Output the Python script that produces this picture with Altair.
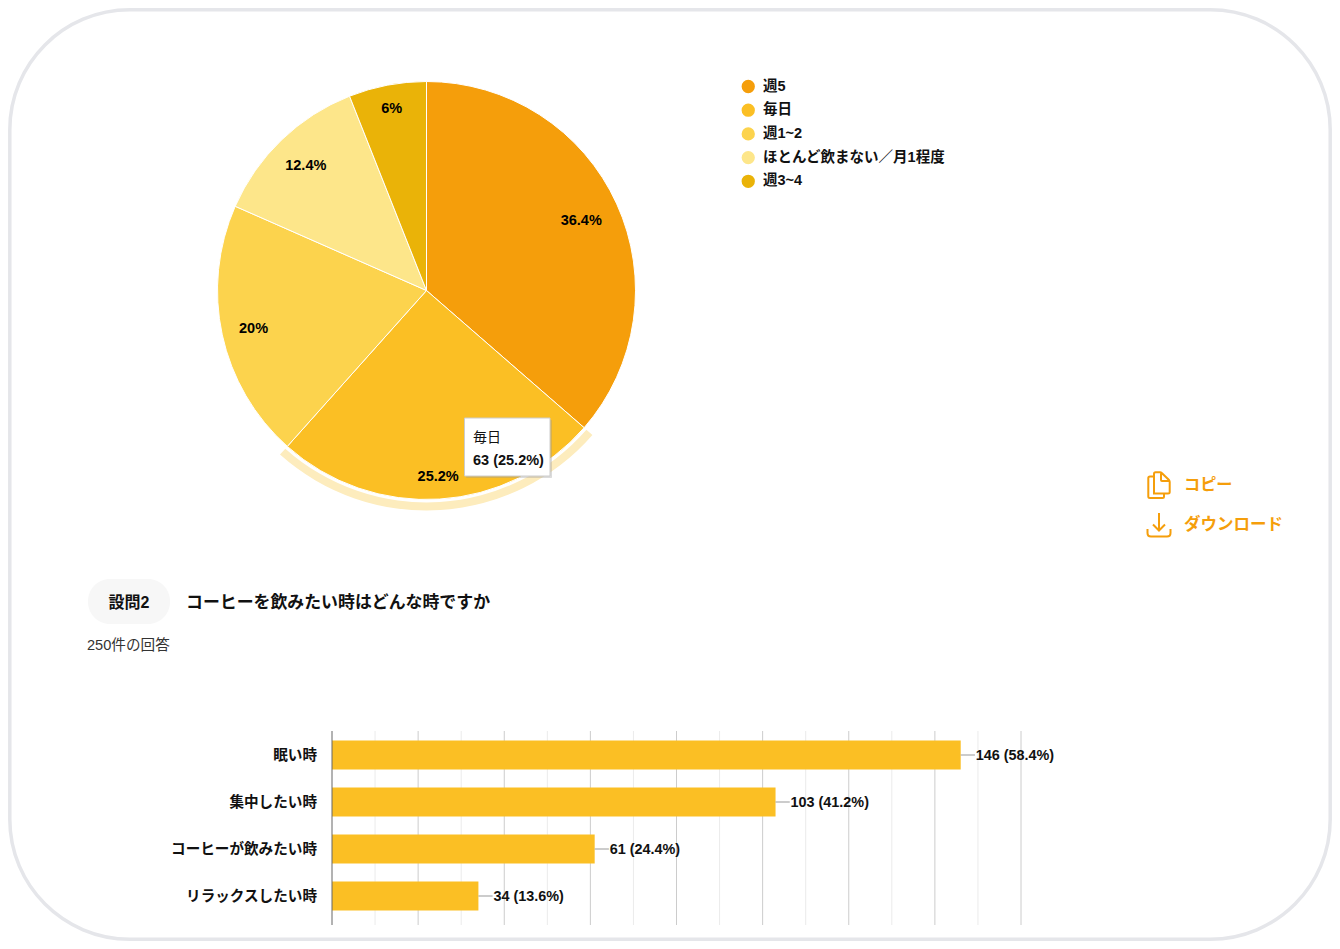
import altair as alt
import pandas as pd

FONT = "Liberation Sans, Noto Sans CJK JP, sans-serif"
INK = "#111111"
ORANGE = "#f59e0b"

# --- data -------------------------------------------------------------
pie_categories = ["週5", "毎日", "週1~2", "ほとんど飲まない／月1程度", "週3~4"]
pie_counts = [91, 63, 50, 31, 15]
pie_labels = ["36.4%", "25.2%", "20%", "12.4%", "6%"]
pie_colors = ["#f59e0b", "#fbbf24", "#fcd34d", "#fde68a", "#eab308"]

bar_categories = ["眠い時", "集中したい時", "コーヒーが飲みたい時", "リラックスしたい時"]
bar_counts = [146, 103, 61, 34]
bar_labels = ["146 (58.4%)", "103 (41.2%)", "61 (24.4%)", "34 (13.6%)"]
major_ticks = [20, 40, 60, 80, 100, 120, 140, 160]
minor_ticks = [10, 30, 50, 70, 90, 110, 130, 150]
axis_ticks = [0]

pie_df = pd.DataFrame({"cat": pie_categories, "n": pie_counts, "lbl": pie_labels,
                       "i": list(range(len(pie_counts)))})
bar_df = pd.DataFrame({"cat": bar_categories, "n": bar_counts, "lbl": bar_labels})
bar_df["lead"] = bar_df["n"] + 3.3
one = pd.DataFrame({"a": [0]})


def px(v):  # page pixel -> chart pixel (page has an 8px margin)
    return v - 8


def text(s, x, y, size=14, weight="normal", color=INK, align="left"):
    return alt.Chart(pd.DataFrame({"t": [s]})).mark_text(
        font=FONT, fontSize=size, fontWeight=weight, color=color, align=align, baseline="middle"
    ).encode(text="t:N", x=alt.value(px(x)), y=alt.value(px(y)))


def box(x0, x1, y0, y1, **kw):
    return alt.Chart(one).mark_rect(**kw).encode(
        x=alt.value(px(x0)), x2=alt.value(px(x1)), y=alt.value(px(y0)), y2=alt.value(px(y1))
    )


# --- card -------------------------------------------------------------
card = box(9.8, 1330.2, 9.8, 939.2, cornerRadius=120, fill="white", stroke="#e5e6ea", strokeWidth=3.5)

# --- pie --------------------------------------------------------------
CX, CY, R = px(426.5), px(290.5), 209
theta = alt.Theta("n:Q", stack=True)
order = alt.Order("i:Q")
color_scale = alt.Scale(domain=pie_categories, range=pie_colors)

slices = alt.Chart(pie_df).mark_arc(outerRadius=R, stroke="white", strokeWidth=1).encode(
    theta=theta, order=order,
    x=alt.value(CX), y=alt.value(CY),
    color=alt.Color("cat:N", scale=color_scale, legend=alt.Legend(
        orient="none", legendX=px(741), legendY=px(78.5), title=None,
        symbolType="circle", symbolSize=177, symbolStrokeWidth=0,
        labelFont=FONT, labelFontSize=14.5, labelFontWeight="bold", labelColor=INK,
        labelLimit=400, labelOffset=7.5, rowPadding=7.7, clipHeight=16, padding=0)),
)
ring = alt.Chart(pie_df).mark_arc(innerRadius=R + 3, outerRadius=R + 11).encode(
    theta=theta, order=order,
    x=alt.value(CX), y=alt.value(CY),
    fill=alt.condition("datum.cat == '毎日'", alt.value("#fdecbd"), alt.value("transparent")),
)


def slice_labels(test, radius):
    return alt.Chart(pie_df).mark_text(
        radius=radius, font=FONT, fontSize=14.5, fontWeight="bold", color="#000000", dy=1
    ).encode(
        theta=theta, order=order,
        x=alt.value(CX), y=alt.value(CY),
        text=alt.condition(test, alt.Text("lbl:N"), alt.value("")),
    )


labels_far = slice_labels("datum.i == 1 || datum.i == 4", 186)
labels_mid = slice_labels("datum.i == 2", 177)
labels_near = slice_labels("datum.i == 0", 170)
labels_low = slice_labels("datum.i == 3", 174)

# --- tooltip ----------------------------------------------------------
tip_shadow = box(466, 552, 420, 478, fill="#999999", opacity=0.35, cornerRadius=1)
tip = box(464.5, 550, 418, 476, fill="white", stroke="#cccccc", strokeWidth=1)
tip_a = text("毎日", 473, 438, 14, "normal")
tip_b = text("63 (25.2%)", 473, 461, 14.5, "bold")

# --- icons / actions --------------------------------------------------
copy_icon = alt.Chart(one).mark_point(
    filled=False, stroke=ORANGE, strokeWidth=2, size=40000, opacity=1,
    shape=("M-0.035,-0.128 L0.01,-0.128 Q0.02,-0.128 0.03,-0.118 L0.10,-0.05 Q0.107,-0.04 0.107,-0.03 "
           "L0.107,0.07 Q0.107,0.085 0.09,0.085 L0.05,0.085 "
           "M-0.035,-0.128 Q-0.05,-0.128 -0.05,-0.11 L-0.05,0.085 L0.05,0.085 "
           "M-0.05,-0.085 L-0.09,-0.085 Q-0.107,-0.085 -0.107,-0.07 L-0.107,0.115 Q-0.107,0.13 -0.09,0.13 "
           "L0.035,0.13 Q0.05,0.13 0.05,0.115 L0.05,0.085 "
           "M0.02,-0.125 L0.02,-0.05 Q0.02,-0.04 0.03,-0.04 L0.105,-0.04")
).encode(x=alt.value(px(1159)), y=alt.value(px(485)))
download_icon = alt.Chart(one).mark_point(
    filled=False, stroke=ORANGE, strokeWidth=2, size=40000, opacity=1,
    shape=("M0,-0.12 L0,0.055 M-0.06,-0.005 L0,0.055 L0.06,-0.005 "
           "M-0.115,0.04 L-0.115,0.08 Q-0.115,0.115 -0.08,0.115 L0.08,0.115 Q0.115,0.115 0.115,0.08 L0.115,0.04")
).encode(x=alt.value(px(1159)), y=alt.value(px(525)))
copy_text = text("コピー", 1184, 485, 16.2, "bold", ORANGE)
download_text = text("ダウンロード", 1184, 525, 16.5, "bold", ORANGE)

# --- question header --------------------------------------------------
pill = box(88, 170, 579, 624, fill="#f7f7f7", cornerRadius=22)
pill_text = text("設問2", 129, 603, 16, "bold", INK, "center")
question = text("コーヒーを飲みたい時はどんな時ですか", 186, 603, 16.9, "bold")
answers = text("250件の回答", 87, 646, 14.6, "normal", "#333333")

# --- bars -------------------------------------------------------------
x_scale = alt.Scale(domain=[0, 160], range=[px(332), px(1021)])
y_scale = alt.Scale(domain=bar_categories, range=[px(731.5), px(919.5)], paddingInner=0.38, paddingOuter=0.19)
X = alt.X("n:Q", scale=x_scale, axis=None)
Y = alt.Y("cat:N", scale=y_scale, axis=None)


def grid(ticks, color):
    return alt.Chart(pd.DataFrame({"t": ticks})).mark_rule(color=color, strokeWidth=1).encode(
        x=alt.X("t:Q", scale=x_scale, axis=None), y=alt.value(px(731)), y2=alt.value(px(925))
    )


grid_minor = grid(minor_ticks, "#ebebeb")
grid_major = grid(major_ticks, "#cccccc")
baseline = grid(axis_ticks, "#666666")
bars = alt.Chart(bar_df).mark_bar(color="#fbbf24", orient="horizontal").encode(x=X, y=Y)
leaders = alt.Chart(bar_df).mark_rule(color="#999999", strokeWidth=1).encode(x=X, x2="lead:Q", y=Y)
value_text = alt.Chart(bar_df).mark_text(
    font=FONT, fontSize=14.4, fontWeight="bold", color=INK, align="left", baseline="middle", dx=15, dy=1
).encode(x=X, y=Y, text="lbl:N")
cat_text = alt.Chart(bar_df).mark_text(
    font=FONT, fontSize=14.6, fontWeight="bold", color=INK, align="right", baseline="middle", dy=1
).encode(x=alt.value(px(317)), y=Y, text="cat:N")

chart = alt.layer(
    card, ring, slices, labels_far, labels_mid, labels_near, labels_low,
    tip_shadow, tip, tip_a, tip_b,
    copy_icon, download_icon, copy_text, download_text,
    pill, pill_text, question, answers,
    grid_minor, grid_major, bars, baseline, leaders, value_text, cat_text,
).properties(
    width=1324, height=933, padding=0, autosize=alt.AutoSizeParams(type="none"), background="white"
).configure_view(stroke=None)

chart.save("out.html", embed_options={"renderer": "svg", "actions": False})
